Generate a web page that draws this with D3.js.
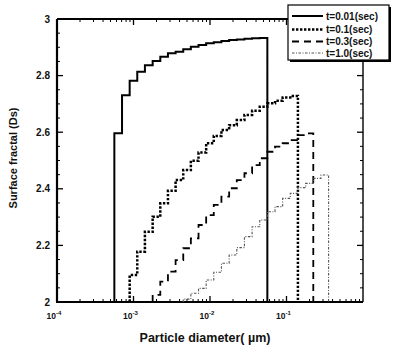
<!DOCTYPE html>
<html>
<head>
<meta charset="utf-8">
<script src="https://cdn.jsdelivr.net/npm/d3@7/dist/d3.min.js"></script>
<style>
  body { margin: 0; background: #fff; }
  svg { display: block; font-family: "Liberation Sans", Arial, sans-serif; }
  .lbl { font-weight: bold; fill: #111; }
</style>
</head>
<body>
<svg id="chart" width="393" height="351"></svg>
<script>
// bin edges of particle diameter (um), 0.1 decade apart
const binEdges = [5.62e-4, 7.08e-4, 8.91e-4, 1.12e-3, 1.41e-3, 1.78e-3, 2.24e-3, 2.82e-3,
  3.55e-3, 4.47e-3, 5.62e-3, 7.08e-3, 8.91e-3, 0.0112, 0.0141, 0.0178, 0.0224, 0.0282,
  0.0355, 0.0447, 0.0562, 0.0708, 0.0891, 0.112, 0.141, 0.178, 0.224, 0.282, 0.355];

// Ds per bin for each time, and index of the first edge
const ds001 = [2.596, 2.731, 2.782, 2.814, 2.837, 2.852, 2.867, 2.879, 2.884, 2.893,
  2.902, 2.908, 2.914, 2.918, 2.922, 2.926, 2.928, 2.930, 2.932, 2.933];
const ds01 = [2.095, 2.178, 2.248, 2.301, 2.349, 2.393, 2.431, 2.466, 2.499, 2.528, 2.561,
  2.587, 2.608, 2.625, 2.643, 2.661, 2.676, 2.690, 2.702, 2.711, 2.723, 2.728];
const ds03 = [2.025, 2.072, 2.107, 2.148, 2.190, 2.225, 2.272, 2.307, 2.343, 2.372, 2.402,
  2.431, 2.455, 2.484, 2.508, 2.531, 2.549, 2.561, 2.572, 2.590, 2.596];
const ds10 = [2.010, 2.031, 2.048, 2.078, 2.105, 2.137, 2.166, 2.192, 2.231, 2.266,
  2.290, 2.319, 2.337, 2.366, 2.384, 2.404, 2.419, 2.437, 2.449];
const startIdx = [0, 2, 5, 9];
const seriesNames = ["t=0.01(sec)", "t=0.1(sec)", "t=0.3(sec)", "t=1.0(sec)"];

const yTicks = [2, 2.2, 2.4, 2.6, 2.8, 3];
const yTickLabels = ["2", "2.2", "2.4", "2.6", "2.8", "3"];
const xTicks = [1e-4, 1e-3, 1e-2, 1e-1];
const xTickExp = ["-4", "-3", "-2", "-1"];

const svg = d3.select("#chart");
const pLeft = 57, pRight = 363, pTop = 19, pBottom = 302;

const x = d3.scaleLog().domain([1e-4, 1]).range([pLeft, pRight]);
const y = d3.scaleLinear().domain([2, 3]).range([pBottom, pTop]);

// line styles
const styles = [
  { w: 2, dash: null, c: "#000" },
  { w: 2.5, dash: "2.4,1.6", c: "#000" },
  { w: 1.8, dash: "7,5", c: "#000" },
  { w: 1.1, dash: "2.5,1.5,1,1.5", c: "#555" }
];

// minor/major ticks
const xMinor = [];
for (let e = -4; e < 0; e++) {
  for (let k = 2; k <= 9; k++) xMinor.push(k * Math.pow(10, e));
}
const yMinor = d3.range(2, 3.001, 0.05).filter(v => Math.abs(v * 5 - Math.round(v * 5)) > 1e-6);

const ax = svg.append("g").attr("stroke", "#000").attr("fill", "none");

function tickLines(vals, len, w) {
  vals.forEach(v => {
    ax.append("line").attr("x1", x(v)).attr("x2", x(v)).attr("y1", pBottom).attr("y2", pBottom - len).attr("stroke-width", w);
    ax.append("line").attr("x1", x(v)).attr("x2", x(v)).attr("y1", pTop).attr("y2", pTop + len).attr("stroke-width", w);
  });
}
tickLines(xTicks, 6, 1.3);
tickLines(xMinor, 3, 1);

function yTickLines(vals, len, w) {
  vals.forEach(v => {
    ax.append("line").attr("x1", pLeft).attr("x2", pLeft + len).attr("y1", y(v)).attr("y2", y(v)).attr("stroke-width", w);
    ax.append("line").attr("x1", pRight).attr("x2", pRight - len).attr("y1", y(v)).attr("y2", y(v)).attr("stroke-width", w);
  });
}
yTickLines(yTicks, 6, 1.3);
yTickLines(yMinor, 3, 1);

// frame
ax.append("line").attr("x1", pLeft).attr("x2", pLeft).attr("y1", pTop).attr("y2", pBottom).attr("stroke-width", 2.2);
ax.append("line").attr("x1", pLeft - 1).attr("x2", pRight).attr("y1", pBottom).attr("y2", pBottom).attr("stroke-width", 2.2);
ax.append("line").attr("x1", pLeft).attr("x2", pRight).attr("y1", pTop).attr("y2", pTop).attr("stroke-width", 1.8);
ax.append("line").attr("x1", pRight).attr("x2", pRight).attr("y1", pTop).attr("y2", pBottom).attr("stroke-width", 1.4);

// step curves
const allDs = [ds001, ds01, ds03, ds10];
const stepLine = d3.line().x(d => x(d[0])).y(d => y(d[1])).curve(d3.curveStepAfter);

allDs.forEach((vals, i) => {
  const s = startIdx[i];
  const pts = [[binEdges[s], 2]];
  vals.forEach((v, j) => pts.push([binEdges[s + j], v]));
  pts.push([binEdges[s + vals.length], vals[vals.length - 1]]);
  pts.push([binEdges[s + vals.length], 2]);
  svg.append("path")
    .attr("d", stepLine(pts))
    .attr("fill", "none")
    .attr("stroke", styles[i].c)
    .attr("stroke-width", styles[i].w)
    .attr("stroke-dasharray", styles[i].dash);
});

// y tick labels
svg.selectAll(".ylab").data(yTicks).enter().append("text")
  .attr("class", "lbl")
  .attr("x", 50)
  .attr("y", d => y(d) + 3.5)
  .attr("text-anchor", "end")
  .style("font-size", "10px")
  .text((d, i) => yTickLabels[i]);

// x tick labels 10^n
xTicks.forEach((v, i) => {
  const t = svg.append("text").attr("class", "lbl")
    .attr("x", x(v) - 3).attr("y", 319)
    .attr("text-anchor", "middle")
    .style("font-size", "8.5px");
  t.append("tspan").text("10");
  t.append("tspan").attr("dy", -4).style("font-size", "6px").text(xTickExp[i]);
});

// axis titles
svg.append("text").attr("class", "lbl")
  .attr("x", 205).attr("y", 342)
  .attr("text-anchor", "middle")
  .style("font-size", "12.5px")
  .text("Particle diameter( \u00b5m)");

svg.append("text").attr("class", "lbl")
  .attr("transform", "translate(17,158) rotate(-90)")
  .attr("text-anchor", "middle")
  .style("font-size", "11px")
  .text("Surface fractal (Ds)");

// legend with shadow border
const lg = svg.append("g");
lg.append("rect").attr("x", 290).attr("y", 7).attr("width", 101).attr("height", 55).attr("fill", "#000");
lg.append("rect").attr("x", 288).attr("y", 5).attr("width", 101).attr("height", 55)
  .attr("fill", "#fff").attr("stroke", "#000").attr("stroke-width", 1.2);

const rowY = [16, 29.5, 41.5, 53];
seriesNames.forEach((name, i) => {
  lg.append("line")
    .attr("x1", 292).attr("x2", 323)
    .attr("y1", rowY[i]).attr("y2", rowY[i])
    .attr("stroke", styles[i].c)
    .attr("stroke-width", styles[i].w)
    .attr("stroke-dasharray", styles[i].dash);
  lg.append("text").attr("class", "lbl")
    .attr("x", 326).attr("y", rowY[i] + 3.5)
    .style("font-size", "10px")
    .text(name);
});
</script>
</body>
</html>
